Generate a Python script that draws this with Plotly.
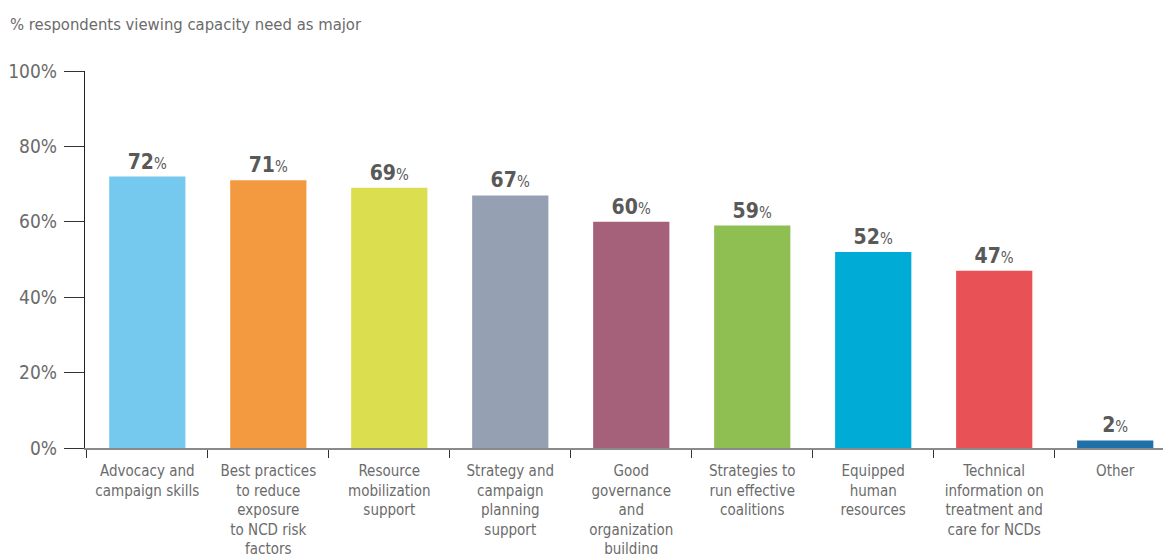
import plotly.graph_objects as go

# Capacity needs and share of respondents rating each as major
categories = [
    "Advocacy and<br>campaign skills",
    "Best practices<br>to reduce<br>exposure<br>to NCD risk<br>factors",
    "Resource<br>mobilization<br>support",
    "Strategy and<br>campaign<br>planning<br>support",
    "Good<br>governance<br>and<br>organization<br>building",
    "Strategies to<br>run effective<br>coalitions",
    "Equipped<br>human<br>resources",
    "Technical<br>information on<br>treatment and<br>care for NCDs",
    "Other",
]
values = [72, 71, 69, 67, 60, 59, 52, 47, 2]
colors = ["#76C9EE", "#F39A41", "#DADE4F", "#95A1B3", "#A5607A",
          "#8FBF53", "#00ACD6", "#E85155", "#1F6FA8"]
y_ticks = [0, 20, 40, 60, 80, 100]

FONT = "Liberation Sans Narrow, DejaVu Sans Condensed, Roboto, sans-serif"
GRAY = "#6b6b6b"

positions = list(range(len(categories)))
labels = [f"<b>{v}</b><span style='font-size:15px'>%</span>" for v in values]

fig = go.Figure(
    go.Bar(
        x=positions,
        y=values,
        marker=dict(color=colors, line=dict(width=0)),
        width=0.63,
        text=labels,
        textposition="outside",
        textfont=dict(family=FONT, size=21, color="#595959"),
        cliponaxis=False,
        hoverinfo="skip",
    )
)

fig.update_layout(
    width=1163,
    height=554,
    margin=dict(l=85, r=0, t=71, b=106),
    paper_bgcolor="white",
    plot_bgcolor="white",
    showlegend=False,
    font=dict(family=FONT, color=GRAY),
    title=dict(
        text="% respondents viewing capacity need as major",
        x=10 / 1163,
        xanchor="left",
        xref="container",
        y=1 - 24 / 554,
        yanchor="middle",
        yref="container",
        font=dict(family=FONT, size=16.5, color=GRAY),
    ),
    xaxis=dict(
        range=[-0.515, 8.395],
        tickvals=positions,
        ticktext=categories,
        ticks="",
        tickfont=dict(family=FONT, size=15, color=GRAY),
        ticklabelstandoff=8,
        automargin=False,
        showgrid=False,
        zeroline=False,
        showline=True,
        linecolor="#8a8a8a",
        linewidth=2,
        minor=dict(ticks="outside", tick0=-0.5, dtick=1, ticklen=8,
                   tickwidth=1.3, tickcolor="#333333", showgrid=False),
        fixedrange=True,
    ),
    yaxis=dict(
        range=[0, 100],
        tickvals=y_ticks,
        ticktext=[f"{t}%" for t in y_ticks],
        ticks="outside",
        ticklen=20,
        tickwidth=1.3,
        tickcolor="#333333",
        tickfont=dict(family=FONT, size=19, color=GRAY),
        ticklabelstandoff=3,
        automargin=False,
        showgrid=False,
        zeroline=False,
        showline=True,
        linecolor="#222222",
        linewidth=1.3,
        fixedrange=True,
    ),
    bargap=0.37,
)

fig.write_html("out.html")
